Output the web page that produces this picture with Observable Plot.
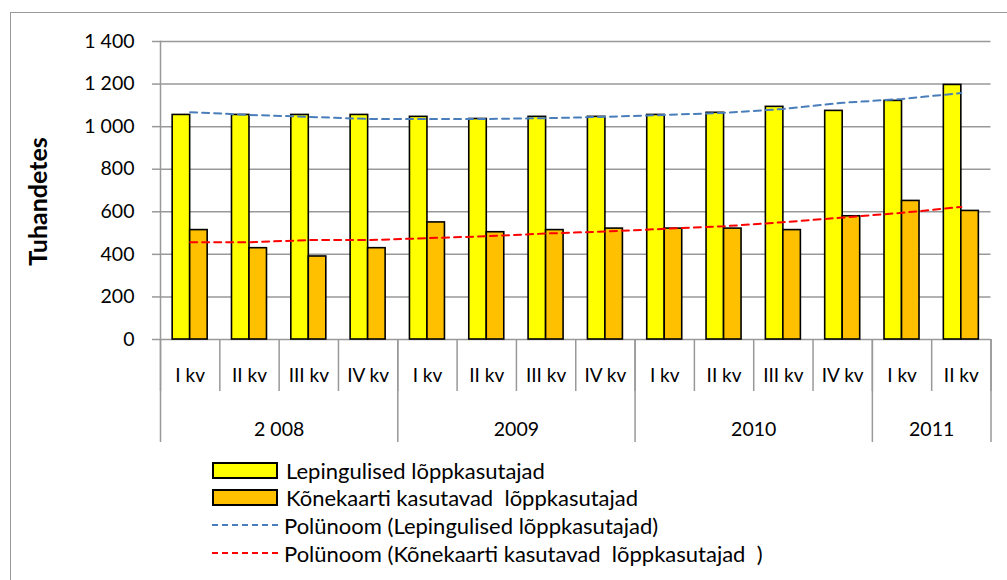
<!DOCTYPE html>
<html>
<head>
<meta charset="utf-8">
<script src="https://cdn.jsdelivr.net/npm/d3@7"></script>
<script src="https://cdn.jsdelivr.net/npm/@observablehq/plot@0.6"></script>
<style>
  body { margin: 0; background: white; font-family: Lato, "Open Sans", sans-serif; }
  #frame { position: absolute; left: 10px; top: 12px; width: 1200px; height: 800px;
           border-left: 1.5px solid #999; border-top: 1.5px solid #999; }
  #chart { position: absolute; left: 0; top: 0; }
  #legend { position: absolute; left: 0; top: 456px; width: 1007px; }
  .row { position: absolute; left: 212px; height: 28px; display: flex; align-items: center; white-space: pre; font-size: 22px; color: #000; }
  .sw { width: 62px; height: 13px; border: 2px solid #000; margin-right: 8px; }
  .ln { width: 66px; height: 0; border-top: 2px dashed; margin-right: 6px; }
</style>
</head>
<body>
<div id="frame"></div>
<div id="chart"></div>
<div id="legend"></div>
<script>
const quarters = ["I kv","II kv","III kv","IV kv","I kv","II kv","III kv","IV kv","I kv","II kv","III kv","IV kv","I kv","II kv"];
const yearOfQuarter = [0,0,0,0,1,1,1,1,2,2,2,2,3,3];
const years = ["2 008","2009","2010","2011"];
const lepingulised = [1055,1055,1055,1055,1046,1036,1046,1046,1055,1065,1093,1074,1121,1196];
const konekaarti   = [514,429,390,429,550,504,514,521,521,521,514,579,651,604];
const trendLepingulised = [1068,1055,1046,1036,1036,1036,1040,1046,1055,1065,1083,1112,1130,1158];
const trendKonekaarti   = [457,457,467,467,476,485,498,507,520,532,551,573,595,623];
const yTicks = [0,200,400,600,800,1000,1200,1400];
const yTickLabels = ["0","200","400","600","800","1 000","1 200","1 400"];
const seriesNames = ["Lepingulised lõppkasutajad","Kõnekaarti kasutavad  lõppkasutajad"];
const trendNames = ["Polünoom (Lepingulised lõppkasutajad)","Polünoom (Kõnekaarti kasutavad  lõppkasutajad  )"];
const colors = ["#FFFF00","#FFC000"];
const trendColors = ["#4A7EBB","#FF0000"];

const rows = quarters.map((q, i) => ({i, q, lep: lepingulised[i], kon: konekaarti[i], tl: trendLepingulised[i], tk: trendKonekaarti[i]}));
const bw = 0.295; // bar width in category units
const idx = quarters.map((_, i) => i);
const quarterBounds = [...idx.map(i => i - 0.5), quarters.length - 0.5];
const yearBounds = [-0.5, ...idx.filter(i => i > 0 && yearOfQuarter[i] !== yearOfQuarter[i-1]).map(i => i - 0.5), quarters.length - 0.5];
const yearCenters = years.map((y, k) => d3.mean(idx.filter(i => yearOfQuarter[i] === k)));
const gray = "#999";

const chart = Plot.plot({
  width: 1007,
  height: 450,
  marginLeft: 160,
  marginRight: 16.5,
  marginTop: 41,
  marginBottom: 111,
  style: {fontFamily: "Lato, 'Open Sans', sans-serif", fontSize: "19px", color: "#000", background: "transparent", overflow: "visible"},
  x: {type: "linear", domain: [-0.5, quarters.length - 0.5]},
  y: {domain: [0, 1400]},
  marks: [
    Plot.gridY({ticks: yTicks, stroke: gray, strokeOpacity: 1, strokeWidth: 1.5}),
    Plot.frame({anchor: "left", stroke: gray, strokeWidth: 1.5}),
    Plot.axisY({ticks: yTicks, tickSize: 8, tickPadding: 18, stroke: gray, strokeWidth: 1.5,
                tickFormat: d => yTickLabels[yTicks.indexOf(d)], fontSize: 19.5, label: null}),
    Plot.axisX({ticks: quarterBounds, tickSize: 52, stroke: gray, strokeWidth: 1.5, tickFormat: () => "", label: null}),
    Plot.axisX({ticks: yearBounds, tickSize: 103, stroke: gray, strokeWidth: 1.5, tickFormat: () => "", label: null}),
    Plot.axisX({ticks: idx, tickSize: 0, tickPadding: 29, tickFormat: i => quarters[i], fontSize: 19, label: null}),
    Plot.axisX({ticks: yearCenters, tickSize: 0, tickPadding: 83, tickFormat: c => years[yearCenters.indexOf(c)], fontSize: 19.5, label: null}),
    Plot.rectY(rows, {x1: d => d.i - bw, x2: d => d.i, y: "lep", fill: colors[0], stroke: "#000", strokeWidth: 1.6}),
    Plot.rectY(rows, {x1: d => d.i, x2: d => d.i + bw, y: "kon", fill: colors[1], stroke: "#000", strokeWidth: 1.6}),
    Plot.line(rows, {x: "i", y: "tl", stroke: trendColors[0], strokeWidth: 2, strokeDasharray: "7,5"}),
    Plot.line(rows, {x: "i", y: "tk", stroke: trendColors[1], strokeWidth: 2, strokeDasharray: "7,5"}),
    Plot.text(["Tuhandetes"], {frameAnchor: "left", textAnchor: "middle", lineAnchor: "middle", rotate: -90, dx: -122, dy: 11, fontWeight: "bold", fontSize: 25})
  ]
});
document.getElementById("chart").appendChild(chart);

const legend = document.getElementById("legend");
const entries = [
  ...seriesNames.map((n, k) => ({n, kind: "sw", c: colors[k]})),
  ...trendNames.map((n, k) => ({n, kind: "ln", c: trendColors[k]}))
];
entries.forEach((e, k) => {
  const r = document.createElement("div");
  r.className = "row";
  r.style.top = (k * 27.7) + "px";
  const s = document.createElement("div");
  s.className = e.kind;
  if (e.kind === "sw") s.style.background = e.c; else s.style.borderTopColor = e.c;
  r.appendChild(s);
  const t = document.createElement("span");
  t.textContent = e.n;
  r.appendChild(t);
  legend.appendChild(r);
});
</script>
</body>
</html>
